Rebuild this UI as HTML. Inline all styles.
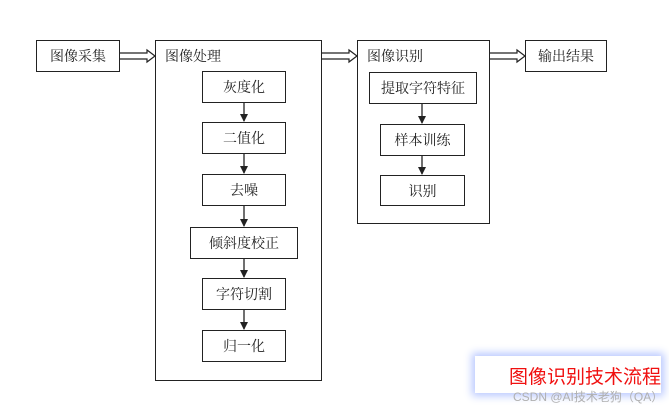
<!DOCTYPE html>
<html><head><meta charset="utf-8"><style>
body{margin:0;width:669px;height:409px;background:#fff;overflow:hidden;position:relative;font-family:"Liberation Serif","Noto Serif CJK SC","Noto Sans CJK SC",serif;}
.b{position:absolute;border:1.5px solid #222;box-sizing:border-box;background:#fff;font-size:14px;color:#222;display:flex;align-items:center;justify-content:center;}
.c{position:absolute;border:1.5px solid #222;box-sizing:border-box;}
.t{position:absolute;font-size:14px;color:#222;}
</style></head><body>
<div class="b" style="left:36px;top:40px;width:84px;height:32px">图像采集</div>
<div class="c" style="left:155px;top:40px;width:167px;height:341px"></div>
<div class="t" style="left:165px;top:46px">图像处理</div>
<div class="b" style="left:202px;top:71px;width:84px;height:32px">灰度化</div>
<div class="b" style="left:202px;top:122px;width:84px;height:32px">二值化</div>
<div class="b" style="left:202px;top:174px;width:84px;height:32px">去噪</div>
<div class="b" style="left:190px;top:227px;width:108px;height:32px">倾斜度校正</div>
<div class="b" style="left:202px;top:278px;width:84px;height:32px">字符切割</div>
<div class="b" style="left:202px;top:330px;width:84px;height:32px">归一化</div>
<div class="c" style="left:357px;top:40px;width:133px;height:184px"></div>
<div class="t" style="left:367px;top:46px">图像识别</div>
<div class="b" style="left:369px;top:72px;width:108px;height:32px">提取字符特征</div>
<div class="b" style="left:380px;top:124px;width:85px;height:32px">样本训练</div>
<div class="b" style="left:380px;top:175px;width:85px;height:31px">识别</div>
<div class="b" style="left:525px;top:40px;width:82px;height:32px">输出结果</div>
<svg width="669" height="409" style="position:absolute;left:0;top:0">
<defs><marker id="a" markerWidth="8" markerHeight="8" refX="7" refY="4" orient="auto" markerUnits="userSpaceOnUse"><path d="M0,0 L8,4 L0,8Z" fill="#222"/></marker></defs>
<g stroke="#222" stroke-width="1.3" marker-end="url(#a)">
<line x1="244" y1="103" x2="244" y2="121"/>
<line x1="244" y1="154" x2="244" y2="173"/>
<line x1="244" y1="206" x2="244" y2="226"/>
<line x1="244" y1="259" x2="244" y2="277"/>
<line x1="244" y1="310" x2="244" y2="329"/>
<line x1="422" y1="104" x2="422" y2="123"/>
<line x1="422" y1="156" x2="422" y2="174"/>
</g>
<g fill="none" stroke="#222" stroke-width="1.2">
<path d="M120,53 H147 V50 L155,56 L147,62 V59 H120"/>
<path d="M322,53 H349 V50 L357,56 L349,62 V59 H322"/>
<path d="M490,53 H517 V50 L525,56 L517,62 V59 H490"/>
</g>
</svg>
<div style="position:absolute;left:475px;top:356px;width:186px;height:37px;background:#fff;box-shadow:0 0 8px 3px #b8c8ff;"></div>
<div style="position:absolute;left:509px;top:362px;font-size:19px;color:#f01010;font-family:'Liberation Sans','Noto Sans CJK SC',sans-serif">图像识别技术流程</div>
<div style="position:absolute;left:513px;top:388px;font-size:12px;color:#b0b0b0;font-family:'Liberation Sans','Noto Sans CJK SC',sans-serif">CSDN @AI技术老狗（QA）</div>
</body></html>
